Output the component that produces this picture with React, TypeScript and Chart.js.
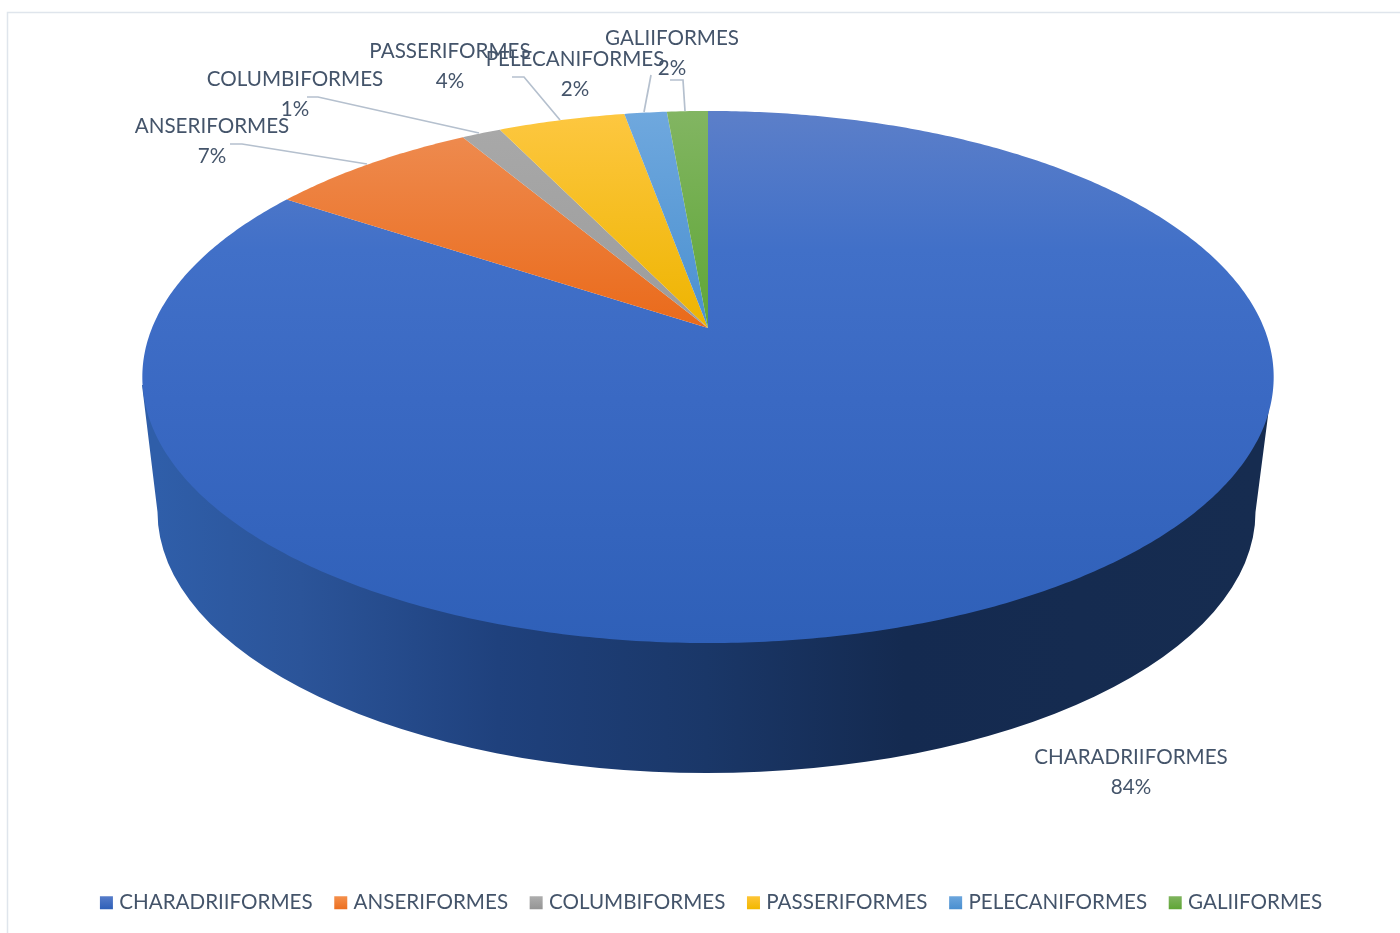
import React, { useEffect, useRef } from "react";
import { Chart, registerables } from "chart.js";

Chart.register(...registerables);

const categories = ["CHARADRIIFORMES", "ANSERIFORMES", "COLUMBIFORMES", "PASSERIFORMES", "PELECANIFORMES", "GALIIFORMES"];
const shares = [84.45, 7.2, 1.35, 4.35, 1.45, 1.4];
const percentLabels = ["84%", "7%", "1%", "4%", "2%", "2%"];
const baseColors = ["#4472c4", "#ed7d31", "#a5a5a5", "#ffc000", "#5b9bd5", "#70ad47"];

const FONT = "Lato";
const FONT_SIZE = 20.6;
const TEXT = "#44546a";
const APEX = { x: 708, y: 328 };
const AX = 556;
const BY = 257;
const Q = 0.1842;

// top-face gradient stops per slice: [offsetY, colour] pairs
const faceStops: [number, string][][] = [
  [[111, "#5c7fc9"], [250, "#4170c8"], [400, "#3a69c3"], [643, "#2f60b8"]],
  [[137, "#ee8a4e"], [328, "#ea6a1a"]],
  [[129, "#a8a8a8"], [328, "#9c9c9c"]],
  [[114, "#fdc740"], [328, "#eeb400"]],
  [[112, "#6fa8de"], [328, "#4a90d0"]],
  [[111, "#82b562"], [328, "#5fa636"]],
];
const legendStops = [
  ["#5a7fcb", "#2f60b8"], ["#f5924f", "#ec6f20"], ["#b0b0b0", "#959595"],
  ["#ffc63c", "#f2b800"], ["#6fa8de", "#4a8fd0"], ["#82b562", "#5fa636"],
];
const labelPlaces = [
  { x: 1131, y: 757 }, { x: 212, y: 126 }, { x: 295, y: 79 },
  { x: 450, y: 51 }, { x: 575, y: 59 }, { x: 672, y: 38 },
];
const leaders: number[][][] = [
  [],
  [[230, 144], [242, 144], [367, 164]],
  [[307, 97], [318, 97], [479, 133]],
  [[512, 77], [524, 77], [560, 120]],
  [[651, 75], [644, 112]],
  [[670, 80], [683, 80], [685, 111]],
];

function project(angle: number) {
  const t = angle + Math.PI / 2;
  const u = Math.sin(t);
  const v = -Math.cos(t);
  const w = 1 - Q * v;
  return { x: APEX.x + (AX * u) / w, y: APEX.y + (BY * v) / w };
}

const pie3d = {
  id: "pie3d",
  beforeDatasetDraw(chart: any) {
    const ctx: CanvasRenderingContext2D = chart.ctx;
    const arcs = chart.getDatasetMeta(0).data;
    ctx.save();
    // side wall
    const wall = ctx.createLinearGradient(158, 0, 1255, 0);
    wall.addColorStop(0, "#2f5ea9");
    wall.addColorStop(0.13, "#2b5499");
    wall.addColorStop(0.31, "#1f417d");
    wall.addColorStop(0.5, "#1a3768");
    wall.addColorStop(0.68, "#142a50");
    wall.addColorStop(1, "#162c50");
    ctx.beginPath();
    ctx.moveTo(142, 385);
    ctx.lineTo(157.5, 512);
    ctx.ellipse(706.5, 512, 549, 261, 0, Math.PI, 0, true);
    ctx.lineTo(1272, 385);
    ctx.closePath();
    ctx.fillStyle = wall;
    ctx.fill();
    // top face
    arcs.forEach((arc: any, i: number) => {
      const a0 = arc.startAngle;
      const a1 = arc.endAngle;
      const steps = Math.max(4, Math.ceil((a1 - a0) / 0.01));
      const stops = faceStops[i];
      const y0 = stops[0][0];
      const y1 = stops[stops.length - 1][0];
      const g = ctx.createLinearGradient(0, y0, 0, y1);
      stops.forEach(([y, c]) => g.addColorStop((y - y0) / (y1 - y0), c));
      ctx.beginPath();
      ctx.moveTo(APEX.x, APEX.y);
      for (let s = 0; s <= steps; s++) {
        const p = project(a0 + ((a1 - a0) * s) / steps);
        ctx.lineTo(p.x, p.y);
      }
      ctx.closePath();
      ctx.fillStyle = g;
      ctx.fill();
    });
    ctx.restore();
    return false;
  },
  afterDraw(chart: any) {
    const ctx: CanvasRenderingContext2D = chart.ctx;
    ctx.save();
    // frame
    ctx.strokeStyle = "#dfe5ec";
    ctx.lineWidth = 1.5;
    ctx.beginPath();
    ctx.moveTo(7.5, 933);
    ctx.lineTo(7.5, 12.5);
    ctx.lineTo(1400, 12.5);
    ctx.stroke();
    // leaders
    ctx.strokeStyle = "#b5c0ce";
    ctx.lineWidth = 1.7;
    leaders.forEach((pts) => {
      if (!pts.length) return;
      ctx.beginPath();
      pts.forEach((p, i) => (i ? ctx.lineTo(p[0], p[1]) : ctx.moveTo(p[0], p[1])));
      ctx.stroke();
    });
    // labels
    ctx.fillStyle = TEXT;
    ctx.font = `${FONT_SIZE}px ${FONT}`;
    ctx.textAlign = "center";
    ctx.textBaseline = "middle";
    categories.forEach((name, i) => {
      const p = labelPlaces[i];
      ctx.fillText(name, p.x, p.y);
      ctx.fillText(percentLabels[i], p.x, p.y + 30);
    });
    ctx.restore();
  },
};

export default function App() {
  const ref = useRef<HTMLCanvasElement>(null);
  useEffect(() => {
    const chart = new Chart(ref.current!, {
      type: "pie",
      data: {
        labels: categories,
        datasets: [{ data: shares, backgroundColor: baseColors, borderWidth: 0 }],
      },
      options: {
        animation: false,
        responsive: false,
        layout: { padding: { bottom: 10, left: 26 } },
        plugins: {
          tooltip: { enabled: false },
          legend: {
            position: "bottom",
            labels: {
              usePointStyle: true,
              pointStyle: "rect",
              boxWidth: 5,
              boxHeight: 13,
              padding: 25.6,
              color: TEXT,
              font: { family: FONT, size: FONT_SIZE },
              generateLabels(c: any) {
                const items = Chart.overrides.doughnut.plugins.legend.labels.generateLabels(c);
                const cx: CanvasRenderingContext2D = c.ctx;
                return items.map((it: any, i: number) => {
                  const g = cx.createLinearGradient(0, 895, 0, 909);
                  g.addColorStop(0, legendStops[i][0]);
                  g.addColorStop(1, legendStops[i][1]);
                  return { ...it, fillStyle: g, strokeStyle: "rgba(0,0,0,0)", lineWidth: 0 };
                });
              },
            },
          },
        },
      },
      plugins: [pie3d],
    } as any);
    return () => chart.destroy();
  }, []);
  return (
    <canvas
      ref={ref}
      width={1400}
      height={933}
      style={{ position: "fixed", left: 0, top: 0, width: 1400, height: 933, background: "#fff" }}
    />
  );
}
